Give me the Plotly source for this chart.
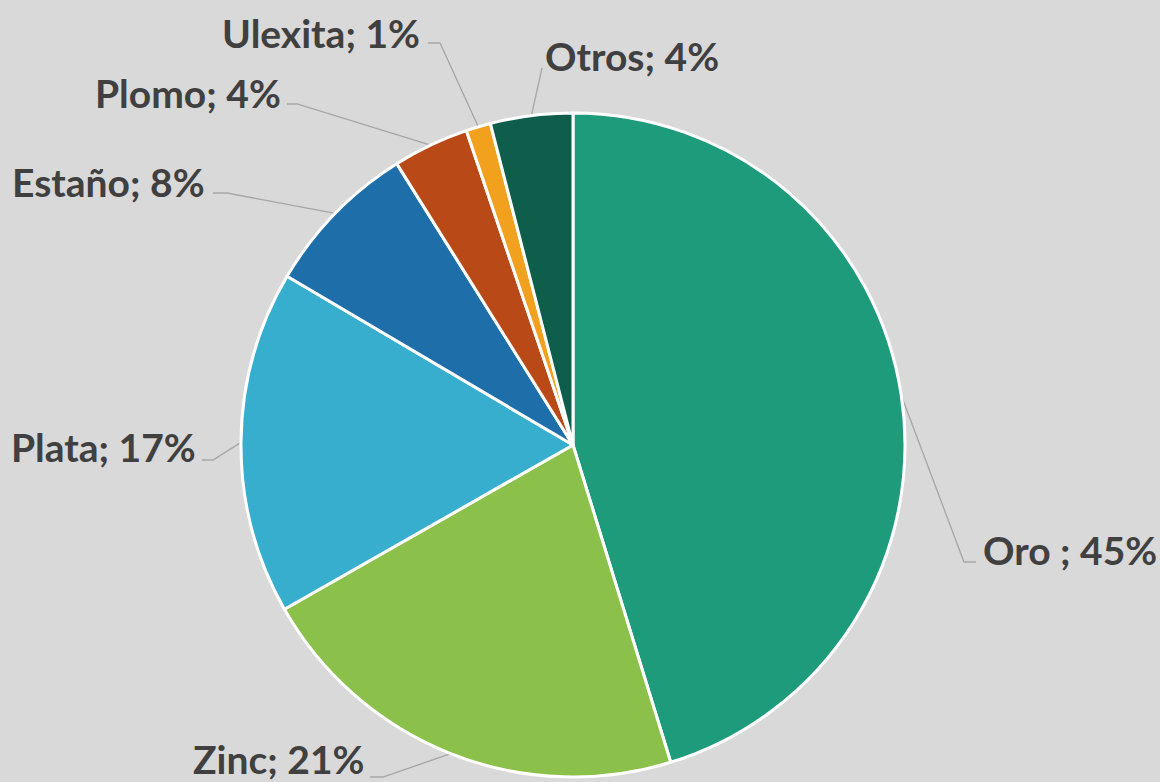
import math
import plotly.graph_objects as go

# ---- data ----
minerals = ["Oro ", "Zinc", "Plata", "Estaño", "Plomo", "Ulexita", "Otros"]
shares = [45.2, 21.5, 16.7, 7.6, 3.7, 1.2, 4.0]
pct_labels = ["45%", "21%", "17%", "8%", "4%", "1%", "4%"]
colors = ["#1e9b7b", "#8bc14a", "#37aecd", "#1e6ea9", "#b94a18", "#f2a11f", "#0f5e4b"]

# ---- layout (pixels) ----
W, H = 1160, 782
CX, CY, R = 573, 445, 332
# label anchor, alignment, leader knee and end (layout positions)
label_pos = [
    (981, 550, "left", (964, 562), (976, 562)),
    (367, 759, "right", (383, 777), (370, 777)),
    (198, 447, "right", (213, 460), (202, 460)),
    (207, 182, "right", (227, 193), (213, 193)),
    (283, 93, "right", (297, 104), (287, 104)),
    (422, 33, "right", (440, 43), (428, 43)),
    (543, 56, "left", (542, 68), (542, 68)),
]

fig = go.Figure()
fig.add_trace(go.Pie(
    labels=minerals, values=shares, sort=False, direction="clockwise", rotation=0,
    marker=dict(colors=colors, line=dict(color="white", width=3)),
    textinfo="none", showlegend=False,
    domain=dict(x=[(CX - R) / W, (CX + R) / W], y=[(H - (CY + R)) / H, (H - (CY - R)) / H]),
))

total = sum(shares)
cum = 0.0
annotations = []
for name, v, pl, (tx, ty, anc, knee, end) in zip(minerals, shares, pct_labels, label_pos):
    mid = (cum + v / 2) / total * 2 * math.pi
    cum += v
    ex = CX + R * math.sin(mid)
    ey = CY - R * math.cos(mid)
    fig.add_trace(go.Scatter(
        x=[ex, knee[0], end[0]], y=[ey, knee[1], end[1]], mode="lines",
        line=dict(color="#a6a6a6", width=1.3), hoverinfo="skip", showlegend=False,
    ))
    annotations.append(dict(
        x=tx, y=ty, xref="x", yref="y", text=f"<b>{name}; {pl}</b>",
        showarrow=False, xanchor=anc, yanchor="middle",
        font=dict(family="Lato", size=39, color="#404040"),
    ))

fig.update_layout(
    width=W, height=H, margin=dict(l=0, r=0, t=0, b=0),
    paper_bgcolor="#d9d9d9", plot_bgcolor="rgba(0,0,0,0)",
    xaxis=dict(range=[0, W], visible=False, fixedrange=True, domain=[0, 1]),
    yaxis=dict(range=[H, 0], visible=False, fixedrange=True, domain=[0, 1]),
    annotations=annotations,
)
fig.write_html(
    "out.html",
    config={"displayModeBar": False},
    post_script="document.body.style.margin='0';document.body.style.overflow='hidden';",
)
